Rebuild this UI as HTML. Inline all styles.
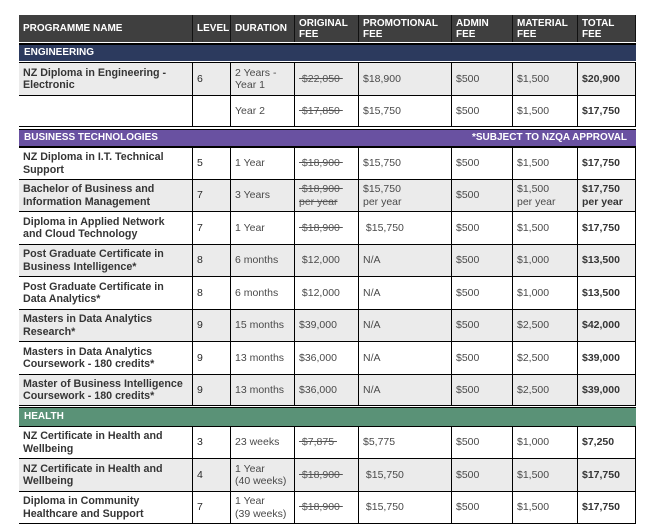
<!DOCTYPE html>
<html><head><meta charset="utf-8">
<style>
html,body{margin:0;padding:0;background:#fff}
body{width:654px;height:529px;position:relative;overflow:hidden;font-family:"Liberation Sans",Arial,sans-serif}
.r{position:absolute;left:19px;width:617px;box-sizing:border-box;border-bottom:1px solid #000}
.g{background:#ebebeb}
.c{position:absolute;top:0;bottom:0;display:flex;align-items:center;padding-left:4px;box-sizing:border-box;border-right:1px solid #000;font-size:10.5px;line-height:12.5px;color:#4a4a4a;white-space:nowrap}
.c0{left:0;width:174px;font-weight:bold;color:#353535;font-size:10.7px}
.c1{left:174px;width:38px;color:#2a2a2a}
.c2{left:212px;width:64px}
.c3{left:276px;width:64px}
.c4{left:340px;width:93px}
.c5{left:433px;width:61px}
.c6{left:494px;width:65px}
.c7{left:559px;width:58px;font-weight:bold;color:#353535}
.hd{position:absolute;left:19px;top:15px;width:617px;height:27px;background:#3f3f3f}
.hd .c{color:#fff;font-weight:bold;font-size:10px;line-height:11px;border-right:1px solid #111}
.ln{position:absolute;left:19px;width:617px;background:#000}
.band{position:absolute;left:19px;width:617px;color:#fff;font-weight:bold;font-size:10px;line-height:16px;padding-left:5px;box-sizing:border-box}
.band span{position:absolute;right:9px;top:0}
s{text-decoration:line-through;color:#555}
</style></head><body>

<div class="hd">
 <div class="c c0" style="color:#fff;font-size:10px">PROGRAMME NAME</div>
 <div class="c c1">LEVEL</div>
 <div class="c c2">DURATION</div>
 <div class="c c3">ORIGINAL<br>FEE</div>
 <div class="c c4">PROMOTIONAL<br>FEE</div>
 <div class="c c5">ADMIN<br>FEE</div>
 <div class="c c6">MATERIAL<br>FEE</div>
 <div class="c c7" style="color:#fff;font-size:10px">TOTAL<br>FEE</div>
</div>
<div class="ln" style="top:43px;height:2px"></div>
<div class="band" style="top:45px;height:16px;background:#2c3a5e">ENGINEERING</div>
<div class="ln" style="top:62px;height:1px"></div>

<div class="r g" style="top:63px;height:33px">
 <div class="c c0">NZ Diploma in Engineering -<br>Electronic</div>
 <div class="c c1">6</div>
 <div class="c c2">2 Years -<br>Year 1</div>
 <div class="c c3"><s>&nbsp;$22,050&nbsp;</s></div>
 <div class="c c4">$18,900</div>
 <div class="c c5">$500</div>
 <div class="c c6">$1,500</div>
 <div class="c c7">$20,900</div>
</div>
<div class="r" style="top:96px;height:31px">
 <div class="c c0"></div>
 <div class="c c1"></div>
 <div class="c c2">Year 2</div>
 <div class="c c3"><s>&nbsp;$17,850&nbsp;</s></div>
 <div class="c c4">$15,750</div>
 <div class="c c5">$500</div>
 <div class="c c6">$1,500</div>
 <div class="c c7">$17,750</div>
</div>
<div class="ln" style="top:129px;height:1px"></div>
<div class="band" style="top:130px;height:16px;background:#6951a1">BUSINESS TECHNOLOGIES<span>*SUBJECT TO NZQA APPROVAL</span></div>
<div class="ln" style="top:146px;height:2px"></div>

<div class="r" style="top:148px;height:32px">
 <div class="c c0">NZ Diploma in I.T. Technical<br>Support</div>
 <div class="c c1">5</div>
 <div class="c c2">1 Year</div>
 <div class="c c3"><s>&nbsp;$18,900&nbsp;</s></div>
 <div class="c c4">$15,750</div>
 <div class="c c5">$500</div>
 <div class="c c6">$1,500</div>
 <div class="c c7">$17,750</div>
</div>
<div class="r g" style="top:180px;height:32px">
 <div class="c c0">Bachelor of Business and<br>Information Management</div>
 <div class="c c1">7</div>
 <div class="c c2">3 Years</div>
 <div class="c c3"><s>&nbsp;$18,900&nbsp;<br>per year</s></div>
 <div class="c c4">$15,750<br>per year</div>
 <div class="c c5">$500</div>
 <div class="c c6">$1,500<br>per year</div>
 <div class="c c7">$17,750<br>per year</div>
</div>
<div class="r" style="top:212px;height:33px">
 <div class="c c0">Diploma in Applied Network<br>and Cloud Technology</div>
 <div class="c c1">7</div>
 <div class="c c2">1 Year</div>
 <div class="c c3"><s>&nbsp;$18,900&nbsp;</s></div>
 <div class="c c4">&nbsp;$15,750</div>
 <div class="c c5">$500</div>
 <div class="c c6">$1,500</div>
 <div class="c c7">$17,750</div>
</div>
<div class="r g" style="top:245px;height:32px">
 <div class="c c0">Post Graduate Certificate in<br>Business Intelligence*</div>
 <div class="c c1">8</div>
 <div class="c c2">6 months</div>
 <div class="c c3">&nbsp;$12,000</div>
 <div class="c c4">N/A</div>
 <div class="c c5">$500</div>
 <div class="c c6">$1,000</div>
 <div class="c c7">$13,500</div>
</div>
<div class="r" style="top:277px;height:33px">
 <div class="c c0">Post Graduate Certificate in<br>Data Analytics*</div>
 <div class="c c1">8</div>
 <div class="c c2">6 months</div>
 <div class="c c3">&nbsp;$12,000</div>
 <div class="c c4">N/A</div>
 <div class="c c5">$500</div>
 <div class="c c6">$1,000</div>
 <div class="c c7">$13,500</div>
</div>
<div class="r g" style="top:310px;height:32px">
 <div class="c c0">Masters in Data Analytics<br>Research*</div>
 <div class="c c1">9</div>
 <div class="c c2">15 months</div>
 <div class="c c3">$39,000</div>
 <div class="c c4">N/A</div>
 <div class="c c5">$500</div>
 <div class="c c6">$2,500</div>
 <div class="c c7">$42,000</div>
</div>
<div class="r" style="top:342px;height:33px">
 <div class="c c0">Masters in Data Analytics<br>Coursework - 180 credits*</div>
 <div class="c c1">9</div>
 <div class="c c2">13 months</div>
 <div class="c c3">$36,000</div>
 <div class="c c4">N/A</div>
 <div class="c c5">$500</div>
 <div class="c c6">$2,500</div>
 <div class="c c7">$39,000</div>
</div>
<div class="r g" style="top:375px;height:31px">
 <div class="c c0">Master of Business Intelligence<br>Coursework - 180 credits*</div>
 <div class="c c1">9</div>
 <div class="c c2">13 months</div>
 <div class="c c3">$36,000</div>
 <div class="c c4">N/A</div>
 <div class="c c5">$500</div>
 <div class="c c6">$2,500</div>
 <div class="c c7">$39,000</div>
</div>
<div class="ln" style="top:407px;height:1px"></div>
<div class="band" style="top:408px;height:18px;line-height:18px;background:#5a9277">HEALTH</div>
<div class="ln" style="top:426px;height:1px"></div>

<div class="r" style="top:427px;height:32px">
 <div class="c c0">NZ Certificate in Health and<br>Wellbeing</div>
 <div class="c c1">3</div>
 <div class="c c2">23 weeks</div>
 <div class="c c3"><s>&nbsp;$7,875&nbsp;</s></div>
 <div class="c c4">$5,775</div>
 <div class="c c5">$500</div>
 <div class="c c6">$1,000</div>
 <div class="c c7">$7,250</div>
</div>
<div class="r g" style="top:459px;height:33px">
 <div class="c c0">NZ Certificate in Health and<br>Wellbeing</div>
 <div class="c c1">4</div>
 <div class="c c2">1 Year<br>(40 weeks)</div>
 <div class="c c3"><s>&nbsp;$18,900&nbsp;</s></div>
 <div class="c c4">&nbsp;$15,750</div>
 <div class="c c5">$500</div>
 <div class="c c6">$1,500</div>
 <div class="c c7">$17,750</div>
</div>
<div class="r" style="top:492px;height:32px">
 <div class="c c0">Diploma in Community<br>Healthcare and Support</div>
 <div class="c c1">7</div>
 <div class="c c2">1 Year<br>(39 weeks)</div>
 <div class="c c3"><s>&nbsp;$18,900&nbsp;</s></div>
 <div class="c c4">&nbsp;$15,750</div>
 <div class="c c5">$500</div>
 <div class="c c6">$1,500</div>
 <div class="c c7">$17,750</div>
</div>

</body></html>
